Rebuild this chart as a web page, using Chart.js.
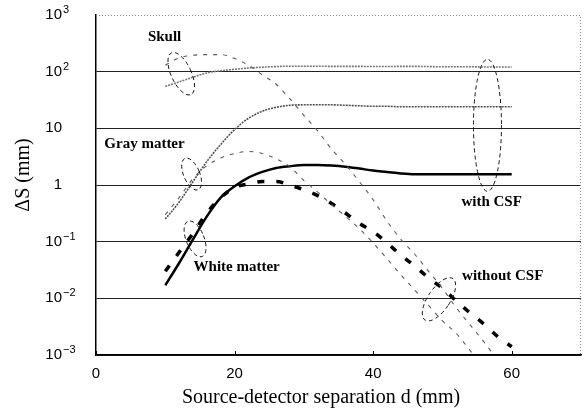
<!DOCTYPE html>
<html>
<head>
<meta charset="utf-8">
<script src="https://cdn.jsdelivr.net/npm/chart.js@4.4.0/dist/chart.umd.min.js"></script>
<style>
  html, body { margin: 0; padding: 0; background: #fff; }
  #wrap { width: 584px; height: 409px; }
</style>
</head>
<body>
<div id="wrap"><canvas id="chart" width="584" height="409"></canvas></div>
<script>
// ── Data ──────────────────────────────────────────────────────────────────────
const separations = [10, 12, 14, 16, 18, 20, 22, 24, 26, 28, 30, 32, 34, 36, 38, 40, 42, 44, 46, 48, 50, 52, 54, 56, 58, 60];

const skullWithCsf = [55, 66, 80, 95, 104, 110, 116, 120, 123, 125, 125, 125, 124, 124, 124, 123, 123, 124, 124, 123, 122, 122, 122, 121, 121, 121];
const grayWithCsf = [0.25, 0.5, 1.15, 2.6, 5.2, 9.5, 15, 20, 23.5, 25.5, 26, 26, 26, 25.5, 25, 24.5, 24.5, 24, 24, 24, 24, 24, 24, 24, 24, 24];
const whiteWithCsf = [0.017, 0.042, 0.11, 0.28, 0.6, 0.95, 1.35, 1.7, 2.0, 2.15, 2.25, 2.25, 2.2, 2.1, 1.95, 1.8, 1.7, 1.6, 1.55, 1.55, 1.55, 1.55, 1.55, 1.55, 1.55, 1.55];

const skullWithoutCsf = [130, 175, 195, 200, 200, 170, 130, 88, 60, 33, 17, 9, 4.3, 2.3, 1.15, 0.55, 0.23, 0.11, 0.06, 0.03, 0.015, 0.0068, 0.0034, 0.0017, 0.0008, null];
const grayWithoutCsf = [0.3, 0.6, 1.3, 2.2, 3.0, 3.6, 3.9, 3.6, 2.9, 2.1, 1.2, 0.75, 0.45, 0.28, 0.17, 0.095, 0.05, 0.026, 0.014, 0.0075, 0.004, 0.0024, 0.0012, 0.0006, null, null];
const whiteWithoutCsf = [0.03, 0.065, 0.14, 0.32, 0.6, 0.9, 1.05, 1.15, 1.15, 1.0, 0.82, 0.65, 0.47, 0.32, 0.21, 0.15, 0.095, 0.058, 0.037, 0.023, 0.015, 0.009, 0.0055, 0.0035, 0.0021, 0.0014];

const xTickValues = [0, 20, 40, 60];
const yTickValues = [1e-3, 1e-2, 1e-1, 1, 10, 100, 1000];
const yTickBases = ["10", "10", "10", "1", "10", "10", "10"];
const yTickExponents = ["\u22123", "\u22122", "\u22121", "", "", "2", "3"];

// ── Annotations (text + dashed ellipses), placed in data coordinates ─────────
const regionLabels = [
    { text: "Skull", x: 9.9, y: 410 },
    { text: "Gray matter", x: 7.0, y: 5.2 },
    { text: "White matter", x: 20.3, y: 0.035 },
    { text: "with CSF", x: 57.1, y: 0.5 },
    { text: "without CSF", x: 58.7, y: 0.025 },
];
const ellipses = [
    { x: 12.3, y: 92, rx: 10, ry: 23, angle: -25 },
    { x: 13.8, y: 1.56, rx: 8, ry: 17, angle: -23 },
    { x: 14.3, y: 0.112, rx: 9, ry: 19, angle: -22 },
    { x: 56.5, y: 11.3, rx: 14, ry: 66, angle: 0 },
    { x: 49.5, y: 0.0096, rx: 11, ry: 25, angle: 34 },
];

const toPoints = (vals) => separations.map((d, i) => ({ x: d, y: vals[i] }));

// ── Custom drawing: tick labels, frame, titles, annotations ──────────────────
const annotatePlugin = {
    id: "annotate",
    afterDraw(chart) {
        const { ctx, chartArea: a, scales: { x, y } } = chart;
        ctx.save();

        // dotted top / right frame
        ctx.strokeStyle = "#8a8a8a";
        ctx.lineWidth = 1;
        ctx.setLineDash([1, 2]);
        ctx.beginPath();
        ctx.moveTo(a.left, a.top + 0.5);
        ctx.lineTo(a.right - 0.5, a.top + 0.5);
        ctx.lineTo(a.right - 0.5, a.bottom);
        ctx.stroke();
        ctx.setLineDash([]);

        // small inward ticks on x axis
        ctx.strokeStyle = "#000";
        xTickValues.forEach((v) => {
            const px = Math.round(x.getPixelForValue(v)) + 0.5;
            ctx.beginPath();
            ctx.moveTo(px, a.bottom);
            ctx.lineTo(px, a.bottom - 4);
            ctx.stroke();
        });

        // x tick labels
        ctx.fillStyle = "#000";
        ctx.font = "15px 'Liberation Sans', Arial, sans-serif";
        ctx.textAlign = "center";
        ctx.textBaseline = "middle";
        xTickValues.forEach((v) => {
            ctx.fillText(String(v), x.getPixelForValue(v), a.bottom + 19);
        });

        // y tick labels with superscript exponents
        yTickValues.forEach((v, i) => {
            const py = y.getPixelForValue(v);
            ctx.font = "15px 'Liberation Sans', Arial, sans-serif";
            ctx.textAlign = "right";
            ctx.textBaseline = "middle";
            ctx.fillText(yTickBases[i], a.left - 34, py);
            if (yTickExponents[i]) {
                ctx.font = "11px 'Liberation Sans', Arial, sans-serif";
                ctx.textAlign = "left";
                ctx.fillText(yTickExponents[i], a.left - 33, py - 5);
            }
        });

        // axis titles
        ctx.font = "20px 'Liberation Serif', 'Times New Roman', serif";
        ctx.textAlign = "center";
        ctx.textBaseline = "middle";
        ctx.fillText("Source-detector separation d (mm)", 321, a.bottom + 43);
        ctx.save();
        ctx.translate(24, 175);
        ctx.rotate(-Math.PI / 2);
        ctx.fillText("\u0394S (mm)", 0, 0);
        ctx.restore();

        // region labels
        ctx.font = "bold 15px 'Liberation Serif', 'Times New Roman', serif";
        regionLabels.forEach((l) => {
            ctx.fillText(l.text, x.getPixelForValue(l.x), y.getPixelForValue(l.y));
        });

        // dashed ellipses
        ctx.strokeStyle = "#111";
        ctx.lineWidth = 1;
        ctx.setLineDash([4, 3]);
        ellipses.forEach((e) => {
            ctx.beginPath();
            ctx.ellipse(x.getPixelForValue(e.x), y.getPixelForValue(e.y), e.rx, e.ry, e.angle * Math.PI / 180, 0, Math.PI * 2);
            ctx.stroke();
        });

        ctx.restore();
    },
};

// ── Chart ─────────────────────────────────────────────────────────────────────
new Chart(document.getElementById("chart").getContext("2d"), {
    type: "line",
    data: {
        datasets: [
            { label: "Skull, with CSF", data: toPoints(skullWithCsf), borderColor: "#777", borderWidth: 1.6, borderDash: [2, 1] },
            { label: "Gray matter, with CSF", data: toPoints(grayWithCsf), borderColor: "#505050", borderWidth: 1.6, borderDash: [2, 1] },
            { label: "Skull, without CSF", data: toPoints(skullWithoutCsf), borderColor: "#5a5a5a", borderWidth: 1.1, borderDash: [4, 6] },
            { label: "Gray matter, without CSF", data: toPoints(grayWithoutCsf), borderColor: "#5a5a5a", borderWidth: 1.1, borderDash: [4, 6] },
            { label: "White matter, without CSF", data: toPoints(whiteWithoutCsf), borderColor: "#000", borderWidth: 3.5, borderDash: [7, 12] },
            { label: "White matter, with CSF", data: toPoints(whiteWithCsf), borderColor: "#000", borderWidth: 2.5 },
        ],
    },
    options: {
        responsive: false,
        animation: false,
        devicePixelRatio: 1,
        layout: { padding: { left: 96, right: 3, top: 15, bottom: 54 } },
        elements: {
            point: { radius: 0 },
            line: { cubicInterpolationMode: "monotone", fill: false },
        },
        plugins: {
            legend: { display: false },
            tooltip: { enabled: false },
        },
        scales: {
            x: {
                type: "linear",
                min: 0,
                max: 70,
                grid: { display: false, drawTicks: false },
                ticks: { display: false },
                border: { color: "#000", width: 1.5 },
            },
            y: {
                type: "logarithmic",
                min: 1e-3,
                max: 1e3,
                afterBuildTicks: (scale) => {
                    scale.ticks = yTickValues.map((v) => ({ value: v }));
                },
                grid: {
                    drawTicks: false,
                    lineWidth: 1,
                    color: (c) => (c.tick && c.tick.value >= 1000 ? "rgba(0,0,0,0)" : "#222"),
                },
                ticks: { display: false },
                border: { color: "#000", width: 1.5 },
            },
        },
    },
    plugins: [annotatePlugin],
});
</script>
</body>
</html>
